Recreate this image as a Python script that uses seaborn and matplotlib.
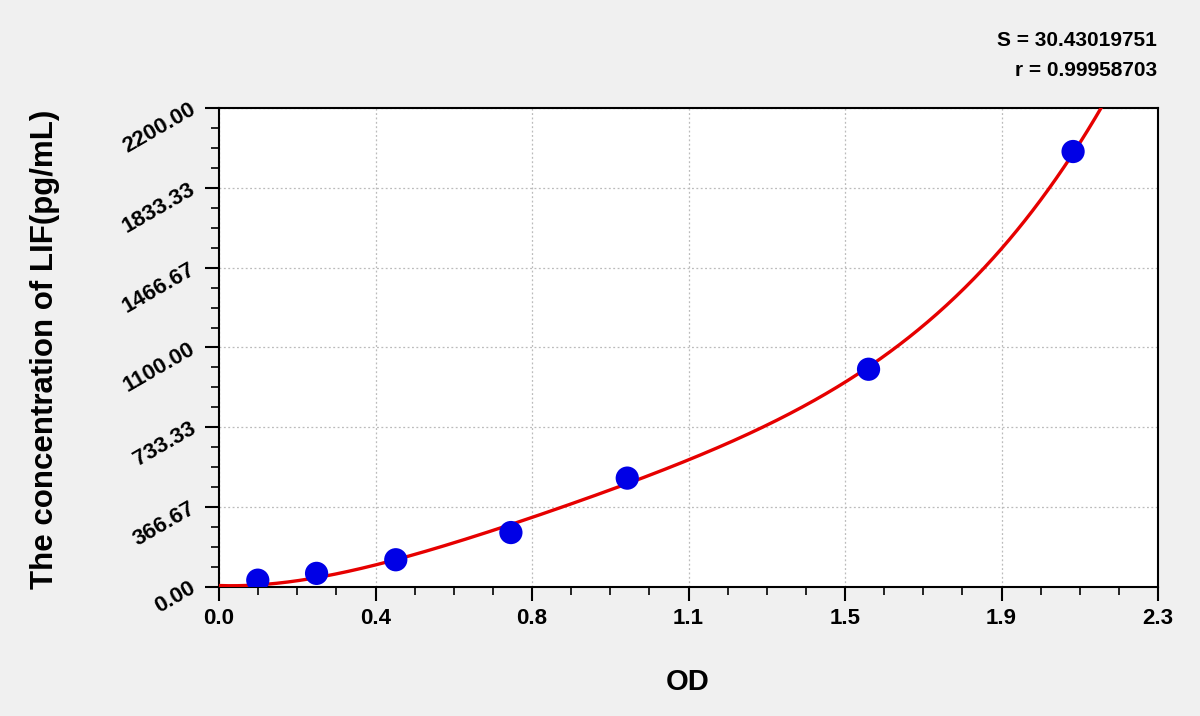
import numpy as np
import pandas as pd
import matplotlib
matplotlib.use("Agg")
import matplotlib.pyplot as plt
import seaborn as sns
from matplotlib.ticker import AutoMinorLocator

# ---- data: standards ----
od = [0.095, 0.239, 0.433, 0.715, 1.000, 1.591, 2.092]
conc = [31.25, 62.5, 125, 250, 500, 1000, 2000]
# ---- data: fitted curve ----
curve_od = [0.0, 0.095, 0.155, 0.239, 0.383, 0.433, 0.641, 0.715, 0.767, 0.839,
            1.0, 1.15, 1.328, 1.476, 1.533, 1.591, 1.722, 1.804, 1.886, 1.917,
            1.968, 2.050, 2.092, 2.164]
curve_conc = [5, 9, 23, 44, 102, 125, 232, 291, 317, 374,
              474, 576, 740, 885, 942, 997, 1199, 1330, 1479, 1547,
              1677, 1890, 1997, 2200]
x_ticks = [0.0, 2.3 / 6, 2 * 2.3 / 6, 3 * 2.3 / 6, 4 * 2.3 / 6, 5 * 2.3 / 6, 2.3]
x_tick_labels = ["0.0", "0.4", "0.8", "1.1", "1.5", "1.9", "2.3"]
y_ticks = [0.0, 366.67, 733.33, 1100.0, 1466.67, 1833.33, 2200.0]
y_tick_labels = ["0.00", "366.67", "733.33", "1100.00", "1466.67", "1833.33", "2200.00"]
stats_lines = ["S = 30.43019751", "r = 0.99958703"]
x_label = "OD"
y_label = "The concentration of LIF(pg/mL)"

# smooth least-squares polynomial through the curve readings
p_poly = np.polyfit(np.asarray(curve_od, float), np.asarray(curve_conc, float), 5)
xs = np.linspace(0, 2.3, 600)
ys = np.polyval(p_poly, xs)
mask = ys <= 2300
curve = pd.DataFrame({"x": xs[mask], "y": ys[mask]})

sns.set_style("white")
plt.rcParams["font.family"] = ["Liberation Sans", "DejaVu Sans"]
plt.rcParams["font.weight"] = "bold"

bg = "#F0F0F0"
fig = plt.figure(figsize=(12, 7.16), dpi=100, facecolor=bg)
ax = fig.add_axes([0.1825, 0.1802, 0.965 - 0.1825, 0.8492 - 0.1802])
ax.set_facecolor("white")

sns.lineplot(data=curve, x="x", y="y", ax=ax, color="#E60000", lw=2.4,
             sort=False, zorder=3)

pts = pd.DataFrame({"x": od, "y": conc})
sns.scatterplot(data=pts, x="x", y="y", ax=ax, color="#0000E6", s=280,
                edgecolor="none", zorder=4)

ax.set_xlim(0, 2.3)
ax.set_ylim(0, 2200)
ax.set_xticks(x_ticks)
ax.set_xticklabels(x_tick_labels, fontsize=16, fontweight="bold", color="black")
ax.set_yticks(y_ticks)
ax.set_yticklabels(y_tick_labels, fontsize=16, fontweight="bold", color="black",
                   rotation=30, rotation_mode="anchor", ha="right", va="center")
ax.xaxis.set_minor_locator(AutoMinorLocator(4))
ax.yaxis.set_minor_locator(AutoMinorLocator(4))
ax.tick_params(axis="both", which="major", direction="out", length=10, width=1.5,
               color="black", bottom=True, left=True)
ax.tick_params(axis="both", which="minor", direction="out", length=6, width=1.2,
               color="black", bottom=True, left=True)
ax.tick_params(axis="x", which="major", pad=5)
ax.tick_params(axis="y", which="major", pad=8)

ax.grid(True, which="major", linestyle=(0, (1.5, 2)), color="#BBBBBB", lw=0.9)
for sp in ax.spines.values():
    sp.set_visible(True)
    sp.set_color("black")
    sp.set_linewidth(1.5)

ax.set_xlabel(x_label, fontsize=21, fontweight="bold", color="black")
ax.set_ylabel(y_label, fontsize=22.5, fontweight="bold", color="black")
ax.xaxis.set_label_coords(0.4995, -0.198)
ax.xaxis.label.set_va("center")
ax.yaxis.set_label_coords(-0.185, 0.497)
ax.yaxis.label.set_va("center")

fig.text(0.964, 0.944, stats_lines[0], ha="right", va="center", fontsize=15,
         fontweight="bold", color="black")
fig.text(0.964, 0.902, stats_lines[1], ha="right", va="center", fontsize=15,
         fontweight="bold", color="black")

fig.savefig("out.png", dpi=100, facecolor=bg)
